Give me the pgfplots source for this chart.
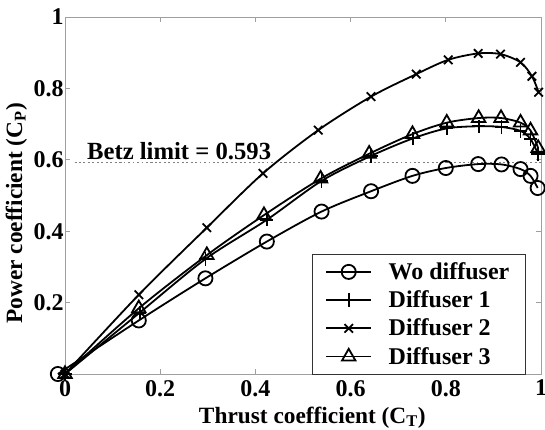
\documentclass[border=0pt]{standalone}
\usepackage{fontspec}
\setmainfont{Liberation Serif}
\usepackage{pgfplots}
\pgfplotsset{compat=1.18}

% measured off the reference curves
\pgfplotstableread{
x      y
-0.015 0
0.155  0.150
0.295  0.268
0.424  0.371
0.539  0.455
0.643  0.512
0.730  0.555
0.800  0.577
0.868  0.588
0.917  0.587
0.957  0.574
0.978  0.555
0.993  0.521
}\wodiff
\pgfplotstableread{
x      y
0      0
0.157  0.172
0.295  0.322
0.424  0.432
0.539  0.541
0.643  0.611
0.731  0.660
0.802  0.688
0.869  0.694
0.917  0.692
0.957  0.681
0.978  0.658
0.994  0.616
}\diffone
\pgfplotstableread{
x      y
0      0
0.155  0.222
0.298  0.410
0.416  0.562
0.532  0.683
0.643  0.777
0.738  0.840
0.805  0.880
0.868  0.898
0.915  0.896
0.957  0.873
0.981  0.834
0.995  0.789
}\difftwo
\pgfplotstableread{
x      y
0      0
0.155  0.184
0.298  0.333
0.418  0.445
0.537  0.547
0.639  0.617
0.730  0.672
0.802  0.704
0.869  0.717
0.916  0.717
0.957  0.704
0.978  0.682
0.994  0.633
}\diffthree

\begin{document}
\begin{tikzpicture}
\begin{axis}[
  name=ax,
  scale only axis, width=357pt, height=267.75pt,
  xmin=0, xmax=1, ymin=0, ymax=1,
  xtick={0,0.2,0.4,0.6,0.8,1}, ytick={0.2,0.4,0.6,0.8,1},
  tick align=inside, major tick length=4pt,
  axis line style={gray!75, line width=0.7pt},
  tick style={gray!75, line width=0.7pt},
  /pgf/number format/assume math mode=true,
  ticklabel style={font=\fontsize{18}{18}\selectfont\bfseries, text=black},
  xticklabel style={yshift=-1pt},
  yticklabel style={xshift=2.5pt},
  xlabel={Thrust coefficient (C\textsubscript{T})},
  ylabel={Power coefficient (C\textsubscript{P})},
  label style={font=\fontsize{17.5}{17.5}\selectfont\bfseries},
  xlabel style={xshift=7pt, yshift=-1pt},
  ylabel style={at={(ticklabel cs:0.45)}, yshift=-2pt},
  clip=false,
  legend style={at={(axis cs:0.968,0.336)}, anchor=north east,
    draw=black!80, line width=0.6pt,
    font=\fontsize{18}{18}\selectfont\bfseries,
    row sep=3pt, inner xsep=10pt, inner ysep=4pt},
  legend cell align=left,
  legend image code/.code={\draw[mark repeat=2,mark phase=2] plot coordinates {(0cm,0cm) (0.59cm,0cm) (1.18cm,0cm)};
    \path (1.55cm,0cm);},
  every axis plot/.append style={black, line width=1.35pt, smooth},
]
\addplot[forget plot, gray, dotted, line width=1.2pt] coordinates {(0.02,0.593) (1,0.593)};
\addplot[mark=o, mark size=5.3pt] table {\wodiff};
\addplot[mark=+, mark size=5pt] table {\diffone};
\addplot[mark=x, mark size=4.5pt] table {\difftwo};
\addplot[mark=triangle, mark size=5.8pt] table {\diffthree};
\legend{Wo diffuser, Diffuser 1, Diffuser 2, Diffuser 3}
\node[font=\fontsize{18.5}{18.5}\selectfont\bfseries, anchor=south west, inner sep=0pt] at (axis cs:0.046,0.6) {Betz limit = 0.593};
\end{axis}
\pgfresetboundingbox
\path ([xshift=-48.75pt,yshift=-41.25pt]ax.south west) rectangle ([xshift=3pt,yshift=12.75pt]ax.north east);
\end{tikzpicture}
\end{document}
